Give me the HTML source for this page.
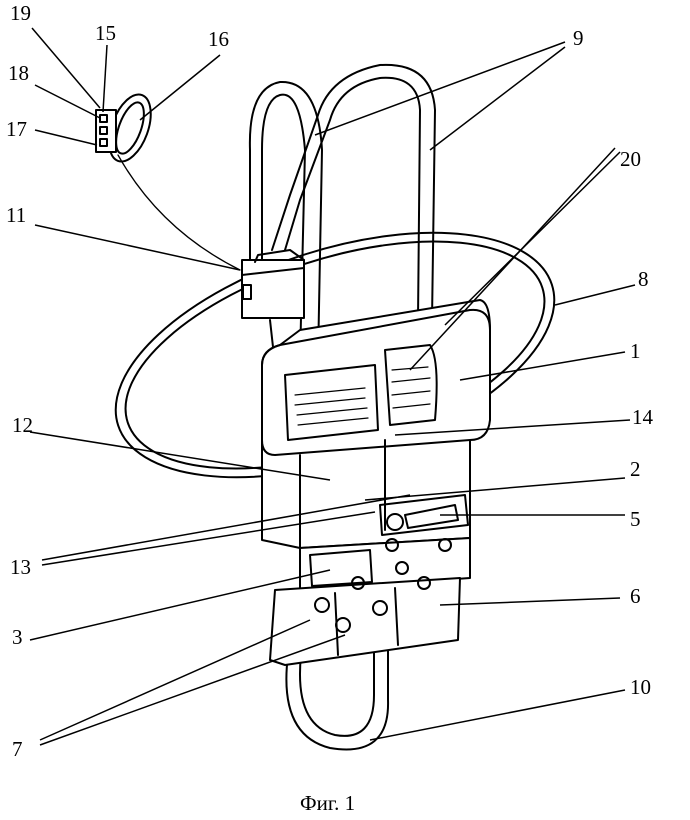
<!DOCTYPE html>
<html><head><meta charset="utf-8"><style>
html,body{margin:0;padding:0;background:#fff;width:690px;height:820px;overflow:hidden}
svg text{font-family:"Liberation Serif",serif;font-size:21px;fill:#000}
</style></head><body>
<svg width="690" height="820" viewBox="0 0 690 820" xmlns="http://www.w3.org/2000/svg">
<g fill="none" stroke="#000" stroke-width="2" stroke-linecap="round" stroke-linejoin="round">
<!-- belt 8 -->
<ellipse cx="335" cy="355" rx="228" ry="105" transform="rotate(-18 335 355)"/>
<ellipse cx="335" cy="355" rx="218" ry="96" transform="rotate(-18 335 355)"/>
<!-- shoulder strap left loop -->
<path d="M300 360 L305 150 Q300 90 280 95 Q262 100 262 150 L262 265"/>
<path d="M318 360 L322 150 Q318 80 280 82 Q248 88 250 150 L250 265"/>
<!-- right loop -->
<path d="M418 320 L420 110 Q418 75 380 78 Q340 85 330 120 L300 200 L285 250"/>
<path d="M432 320 L435 110 Q432 62 380 65 Q330 75 318 115 L290 195 L272 250"/>
<path d="M270 320 L275 365"/>
<!-- strap 10 -->
<path d="M288 655 Q278 735 330 748 Q390 758 388 700 L388 630"/>
<path d="M301 655 Q294 725 335 735 Q374 742 374 695 L374 632"/>
</g>
<g fill="#fff" stroke="#000" stroke-width="2" stroke-linecap="round" stroke-linejoin="round">
<!-- body 2 -->
<path d="M262 440 L262 540 L300 548 L470 538 L470 440 Z"/>
<!-- section 3 -->
<path d="M300 548 L300 590 L470 578 L470 538 Z"/>
<!-- section 6 -->
<path d="M275 590 L460 578 L458 640 L285 665 L270 660 Z"/>
<!-- main body 1 -->
<path d="M280 345 L300 330 L480 300 Q490 302 490 330 L490 420 Q488 440 470 440 L275 455 Q262 455 262 440 L262 365 Q262 350 280 345 Z"/>
</g>
<g fill="none" stroke="#000" stroke-width="2" stroke-linecap="round" stroke-linejoin="round">
<path d="M262 365 Q262 350 280 345 L470 310 Q490 308 490 330"/>
<!-- pockets 20 -->
<path d="M285 375 L375 365 L378 430 L288 440 Z"/>
<path d="M385 350 L430 345 Q440 360 435 420 L390 425 Z"/>
<g stroke-width="1.2">
<path d="M295 395 L365 388 M295 405 L365 398 M297 415 L367 408 M298 425 L368 418"/>
<path d="M392 370 L428 367 M392 382 L430 378 M392 395 L430 391 M393 408 L430 404"/>
</g>
<path d="M385 440 L385 530"/>
<path d="M300 455 L300 548"/>
<!-- section 5 -->
<path d="M380 505 L465 495 L468 525 L382 535 Z"/>
<circle cx="395" cy="522" r="8"/>
<path d="M405 515 L455 505 L458 520 L408 528 Z"/>
<path d="M310 555 L370 550 L372 582 L312 586 Z"/>
<circle cx="392" cy="545" r="6"/><circle cx="402" cy="568" r="6"/><circle cx="445" cy="545" r="6"/><circle cx="358" cy="583" r="6"/><circle cx="424" cy="583" r="6"/>
<circle cx="322" cy="605" r="7"/><circle cx="380" cy="608" r="7"/><circle cx="343" cy="625" r="7"/>
<path d="M335 593 L338 655 M395 588 L398 645"/>
<!-- device 11 -->
<rect x="242" y="260" width="62" height="58" fill="#fff"/>
<path d="M242 275 L304 268 M255 262 L258 255 L290 250 L304 260"/>
<rect x="243" y="285" width="8" height="14"/>
<!-- wrist 16 -->
<ellipse cx="130" cy="128" rx="18" ry="35" transform="rotate(20 130 128)"/>
<ellipse cx="130" cy="128" rx="11" ry="27" transform="rotate(20 130 128)"/>
<rect x="96" y="110" width="20" height="42" fill="#fff"/>
<rect x="100" y="115" width="7" height="7"/><rect x="100" y="127" width="7" height="7"/><rect x="100" y="139" width="7" height="7"/>
<path d="M118 155 Q160 230 240 270" stroke-width="1.3"/>
</g>
<!-- leader lines -->
<g stroke="#000" stroke-width="1.5">
<line x1="32" y1="28" x2="100" y2="108"/>
<line x1="107" y1="45" x2="103" y2="112"/>
<line x1="220" y1="55" x2="140" y2="120"/>
<line x1="35" y1="85" x2="100" y2="118"/>
<line x1="35" y1="130" x2="97" y2="145"/>
<line x1="35" y1="225" x2="240" y2="270"/>
<line x1="565" y1="42" x2="315" y2="135"/>
<line x1="565" y1="47" x2="430" y2="150"/>
<line x1="615" y1="148" x2="410" y2="370"/>
<line x1="620" y1="152" x2="445" y2="325"/>
<line x1="635" y1="285" x2="555" y2="305"/>
<line x1="625" y1="352" x2="460" y2="380"/>
<line x1="30" y1="432" x2="330" y2="480"/>
<line x1="630" y1="420" x2="395" y2="435"/>
<line x1="625" y1="478" x2="365" y2="500"/>
<line x1="625" y1="515" x2="440" y2="515"/>
<line x1="42" y1="565" x2="375" y2="512"/>
<line x1="42" y1="560" x2="410" y2="495"/>
<line x1="620" y1="598" x2="440" y2="605"/>
<line x1="30" y1="640" x2="330" y2="570"/>
<line x1="625" y1="690" x2="370" y2="740"/>
<line x1="40" y1="740" x2="310" y2="620"/>
<line x1="40" y1="745" x2="345" y2="635"/>
</g>
<text x="10" y="20">19</text>
<text x="95" y="40">15</text>
<text x="208" y="46">16</text>
<text x="8" y="80">18</text>
<text x="6" y="136">17</text>
<text x="6" y="222">11</text>
<text x="573" y="45">9</text>
<text x="620" y="166">20</text>
<text x="638" y="286">8</text>
<text x="630" y="358">1</text>
<text x="12" y="432">12</text>
<text x="632" y="424">14</text>
<text x="630" y="476">2</text>
<text x="630" y="526">5</text>
<text x="10" y="574">13</text>
<text x="630" y="603">6</text>
<text x="12" y="644">3</text>
<text x="630" y="694">10</text>
<text x="12" y="756">7</text>
<text x="300" y="810" font-size="20">Фиг. 1</text>
</svg>
</body></html>
